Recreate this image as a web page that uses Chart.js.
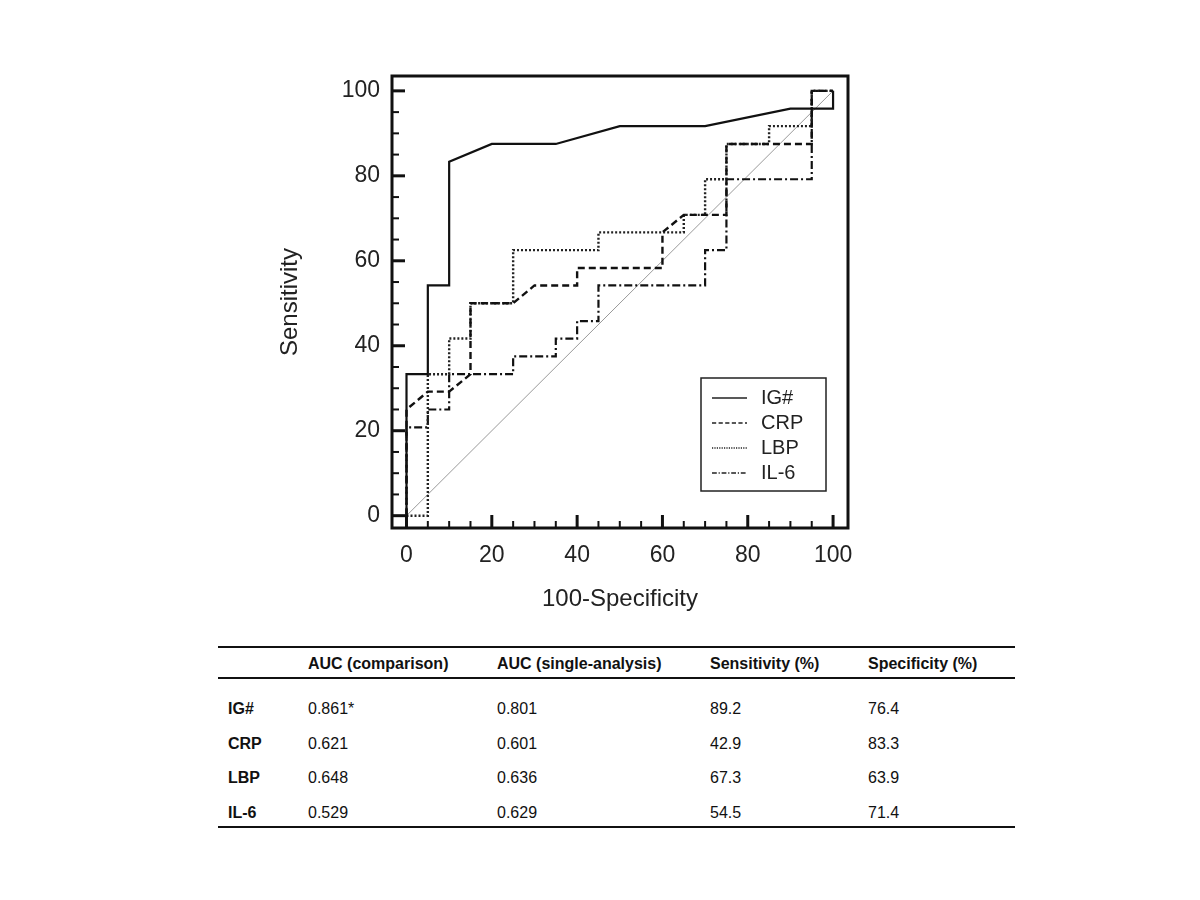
<!DOCTYPE html>
<html>
<head>
<meta charset="utf-8">
<script src="https://cdn.jsdelivr.net/npm/chart.js@4.4.1/dist/chart.umd.min.js"></script>
<style>
  body { margin: 0; background: #fff; width: 1200px; height: 900px; position: relative; overflow: hidden; }
  #wrap { position: absolute; left: 0; top: 0; width: 1200px; height: 640px; }
  #tabla { position: absolute; left: 218px; top: 646px; width: 797px; height: 182px;
           font-family: "Liberation Sans", Arial, sans-serif; font-size: 16px; color: #111; }
  .linea { position: absolute; left: 0; width: 797px; background: #111; }
  .celda { position: absolute; white-space: nowrap; transform: translateY(-50%); }
  .neg { font-weight: bold; }
</style>
</head>
<body>
<div id="wrap"><canvas id="myChart" width="1200" height="640"></canvas></div>
<div id="tabla"></div>
<script>
// Curvas ROC (x = 100-especificidad, y = sensibilidad)
const seriesNames = ["IG#", "CRP", "LBP", "IL-6"];

const igX  = [0, 0, 5, 5, 10, 10, 20, 35, 50, 70, 90, 100, 100];
const igY  = [0, 33.3, 33.3, 54.2, 54.2, 83.3, 87.5, 87.5, 91.7, 91.7, 95.8, 95.8, 100];

const crpX = [0, 0, 5, 10, 15, 15, 25, 30, 40, 40, 60, 60, 65, 75, 75, 95, 95, 100];
const crpY = [0, 25, 29.2, 29.2, 33.3, 50, 50, 54.2, 54.2, 58.3, 58.3, 66.7, 70.8, 70.8, 87.5, 87.5, 100, 100];

const lbpX = [0, 5, 5, 10, 10, 15, 15, 25, 25, 45, 45, 65, 65, 70, 70, 75, 75, 85, 85, 95, 95, 100];
const lbpY = [0, 0, 33.3, 33.3, 41.7, 41.7, 50, 50, 62.5, 62.5, 66.7, 66.7, 70.8, 70.8, 79.2, 79.2, 87.5, 87.5, 91.7, 91.7, 100, 100];

const il6X = [0, 0, 5, 5, 10, 10, 25, 25, 35, 35, 40, 40, 45, 45, 70, 70, 75, 75, 95, 95, 100];
const il6Y = [0, 20.8, 20.8, 25, 25, 33.3, 33.3, 37.5, 37.5, 41.7, 41.7, 45.8, 45.8, 54.2, 54.2, 62.5, 62.5, 79.2, 79.2, 100, 100];

// Linea de referencia
const refX = [0, 100];
const refY = [0, 100];

// Marcas de los ejes
const tickLabels = [0, 20, 40, 60, 80, 100];
const minorTicks = [0, 5, 10, 15, 20, 25, 30, 35, 40, 45, 50, 55, 60, 65, 70, 75, 80, 85, 90, 95, 100];

// Tabla
const headers = ["", "AUC (comparison)", "AUC (single-analysis)", "Sensitivity (%)", "Specificity (%)"];
const aucComparison = ["0.861*", "0.621", "0.648", "0.529"];
const aucSingle = ["0.801", "0.601", "0.636", "0.629"];
const sensitivity = ["89.2", "42.9", "67.3", "54.5"];
const specificity = ["76.4", "83.3", "63.9", "71.4"];

function puntos(xs, ys) {
    return xs.map((x, i) => ({ x: x, y: ys[i] }));
}

const estilos = [
    { dash: [], width: 2.2 },
    { dash: [7, 4], width: 2.4 },
    { dash: [2, 2], width: 2.4 },
    { dash: [8, 3, 2, 3], width: 2.2 }
];

const fuente = '"Liberation Sans", Arial, sans-serif';

// Marco, marcas hacia dentro y leyenda
const marco = {
    id: "marco",
    afterDraw(chart) {
        const ctx = chart.ctx;
        const a = chart.chartArea;
        const sx = chart.scales.x, sy = chart.scales.y;
        ctx.save();
        ctx.strokeStyle = "#111";
        ctx.lineWidth = 3;
        ctx.strokeRect(a.left, a.top, a.right - a.left, a.bottom - a.top);
        minorTicks.forEach(v => {
            const mayor = v % 20 === 0;
            ctx.lineWidth = mayor ? 3 : 2;
            const l = mayor ? 13 : 7;
            const px = sx.getPixelForValue(v);
            ctx.beginPath(); ctx.moveTo(px, a.bottom); ctx.lineTo(px, a.bottom - l); ctx.stroke();
            const py = sy.getPixelForValue(v);
            ctx.beginPath(); ctx.moveTo(a.left, py); ctx.lineTo(a.left + l, py); ctx.stroke();
        });
        // leyenda
        const bx = 701, by = 378, bw = 125, bh = 113;
        ctx.fillStyle = "#fff";
        ctx.fillRect(bx, by, bw, bh);
        ctx.lineWidth = 1.5;
        ctx.strokeStyle = "#222";
        ctx.strokeRect(bx, by, bw, bh);
        ctx.font = "20px " + fuente;
        ctx.textBaseline = "middle";
        seriesNames.forEach((n, i) => {
            const y = by + 20 + i * 25;
            ctx.setLineDash(estilos[i].dash.map(d => d * 0.6));
            ctx.lineWidth = 1.3;
            ctx.strokeStyle = "#222";
            ctx.beginPath(); ctx.moveTo(bx + 11, y); ctx.lineTo(bx + 46, y); ctx.stroke();
            ctx.setLineDash([]);
            ctx.fillStyle = "#222";
            ctx.fillText(n, bx + 60, y);
        });
        ctx.restore();
    }
};

const cnv = document.getElementById("myChart");

const datos = {
    datasets: [
        { label: seriesNames[0], data: puntos(igX, igY), borderColor: "#111", borderWidth: estilos[0].width, borderDash: estilos[0].dash, order: 1 },
        { label: seriesNames[1], data: puntos(crpX, crpY), borderColor: "#111", borderWidth: estilos[1].width, borderDash: estilos[1].dash, order: 2 },
        { label: seriesNames[2], data: puntos(lbpX, lbpY), borderColor: "#222", borderWidth: estilos[2].width, borderDash: estilos[2].dash, order: 3 },
        { label: seriesNames[3], data: puntos(il6X, il6Y), borderColor: "#111", borderWidth: estilos[3].width, borderDash: estilos[3].dash, order: 4 },
        { label: "ref", data: puntos(refX, refY), borderColor: "#999", borderWidth: 1, order: 5 }
    ]
};

new Chart(cnv, {
    type: "scatter",
    data: datos,
    options: {
        responsive: false,
        animation: false,
        showLine: true,
        elements: { point: { radius: 0 }, line: { tension: 0, fill: false } },
        layout: { padding: { left: 272, top: 76, right: 352, bottom: 22 } },
        plugins: { legend: { display: false }, tooltip: { enabled: false } },
        scales: {
            x: {
                type: "linear", min: -3.4, max: 103.5,
                afterBuildTicks: s => { s.ticks = tickLabels.map(v => ({ value: v })); },
                afterFit: s => { s.height = 90; },
                grid: { display: false, drawTicks: false },
                border: { display: false },
                ticks: { padding: 14, color: "#222", font: { family: fuente, size: 23 } },
                title: { display: true, text: "100-Specificity", color: "#222", padding: { top: 8, bottom: 4 }, font: { family: fuente, size: 24 } }
            },
            y: {
                type: "linear", min: -2.9, max: 103.5,
                afterBuildTicks: s => { s.ticks = tickLabels.map(v => ({ value: v })); },
                afterFit: s => { s.width = 120; },
                grid: { display: false, drawTicks: false },
                border: { display: false },
                ticks: { padding: 12, color: "#222", font: { family: fuente, size: 23 } },
                title: { display: true, text: "Sensitivity", color: "#222", padding: { top: 4, bottom: 4 }, font: { family: fuente, size: 24 } }
            }
        }
    },
    plugins: [marco]
});

// Tabla de resultados
const tabla = document.getElementById("tabla");
const colX = [10, 90, 279, 492, 650];
function linea(top, h) {
    const d = document.createElement("div");
    d.className = "linea"; d.style.top = top + "px"; d.style.height = h + "px";
    tabla.appendChild(d);
}
function celda(txt, x, y, neg) {
    const d = document.createElement("div");
    d.className = "celda" + (neg ? " neg" : "");
    d.style.left = x + "px"; d.style.top = y + "px";
    d.textContent = txt;
    tabla.appendChild(d);
}
linea(0, 2);
linea(31, 1.5);
linea(180, 2);
headers.forEach((h, i) => celda(h, colX[i], 18, true));
seriesNames.forEach((n, r) => {
    const y = 63 + r * 34.7;
    celda(n, colX[0], y, true);
    celda(aucComparison[r], colX[1], y, false);
    celda(aucSingle[r], colX[2], y, false);
    celda(sensitivity[r], colX[3], y, false);
    celda(specificity[r], colX[4], y, false);
});
</script>
</body>
</html>
